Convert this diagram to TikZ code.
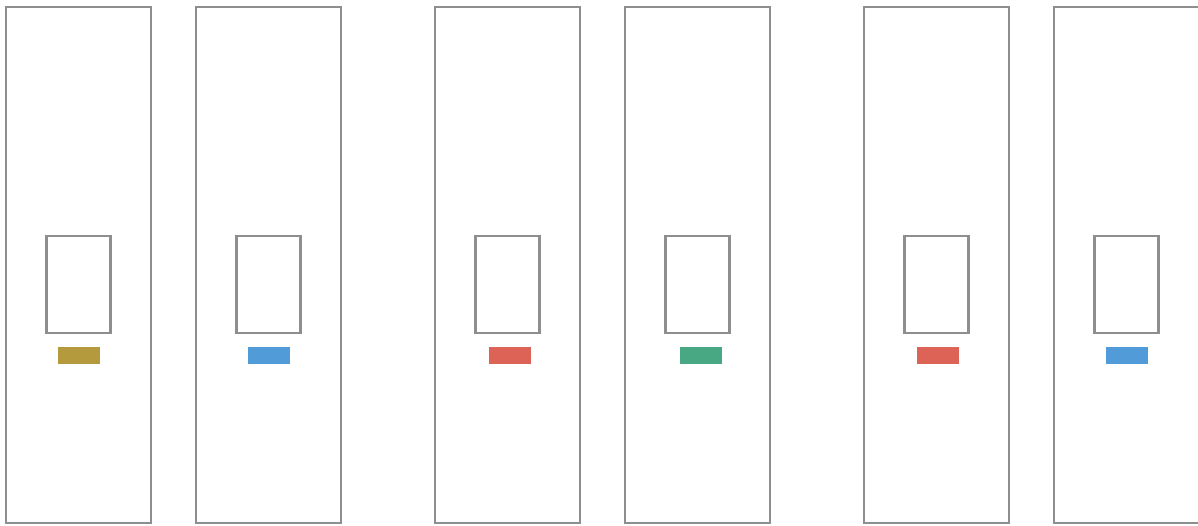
\documentclass[tikz,border=0pt]{standalone}
\usetikzlibrary{positioning}
\usepackage{xcolor}
\definecolor{framegray}{HTML}{8E8E8E}
\definecolor{tagGold}{HTML}{B59A3D}
\definecolor{tagBlue}{HTML}{509BD8}
\definecolor{tagRed}{HTML}{DE6357}
\definecolor{tagGreen}{HTML}{47A883}

\begin{document}
\begin{tikzpicture}[
            x=1pt, y=-1pt,
            node distance=45pt,
            bay/.style={rectangle, draw=framegray, line width=2.3pt, minimum width=145pt, minimum height=516pt, inner sep=0pt, outer sep=0pt},
            slot/.style={rectangle, draw=framegray, line width=2.3pt, minimum width=64pt, minimum height=97pt, inner sep=0pt, outer sep=0pt},
            tag/.style={rectangle, minimum width=42pt, minimum height=17pt, inner sep=0pt, outer sep=0pt}
        ]
            \useasboundingbox (0,0) rectangle (1198,525);
            \clip (0,0) rectangle (1198,525);

            % --- BAYS (three pairs) ---
            \node[bay] (bayA) at (78.5,265) {};
            \node[bay, right=of bayA] (bayB) {};
            \node[bay, right=94pt of bayB] (bayC) {};
            \node[bay, right=of bayC] (bayD) {};
            \node[bay, right=94pt of bayD] (bayE) {};
            \node[bay, right=of bayE] (bayF) {};

            % --- SLOTS ---
            \foreach \b in {A,B,C,D,E,F}
                \node[slot, yshift=-19.5pt] (slot\b) at (bay\b) {};

            % --- TAGS ---
            \node[tag, fill=tagGold, below=14pt of slotA] (tagA) {};
            \node[tag, fill=tagBlue, below=14pt of slotB] (tagB) {};
            \node[tag, fill=tagRed, below=14pt of slotC, xshift=2.5pt] (tagC) {};
            \node[tag, fill=tagGreen, below=14pt of slotD, xshift=3pt] (tagD) {};
            \node[tag, fill=tagRed, below=14pt of slotE, xshift=1pt] (tagE) {};
            \node[tag, fill=tagBlue, below=14pt of slotF] (tagF) {};

        \end{tikzpicture}
\end{document}
